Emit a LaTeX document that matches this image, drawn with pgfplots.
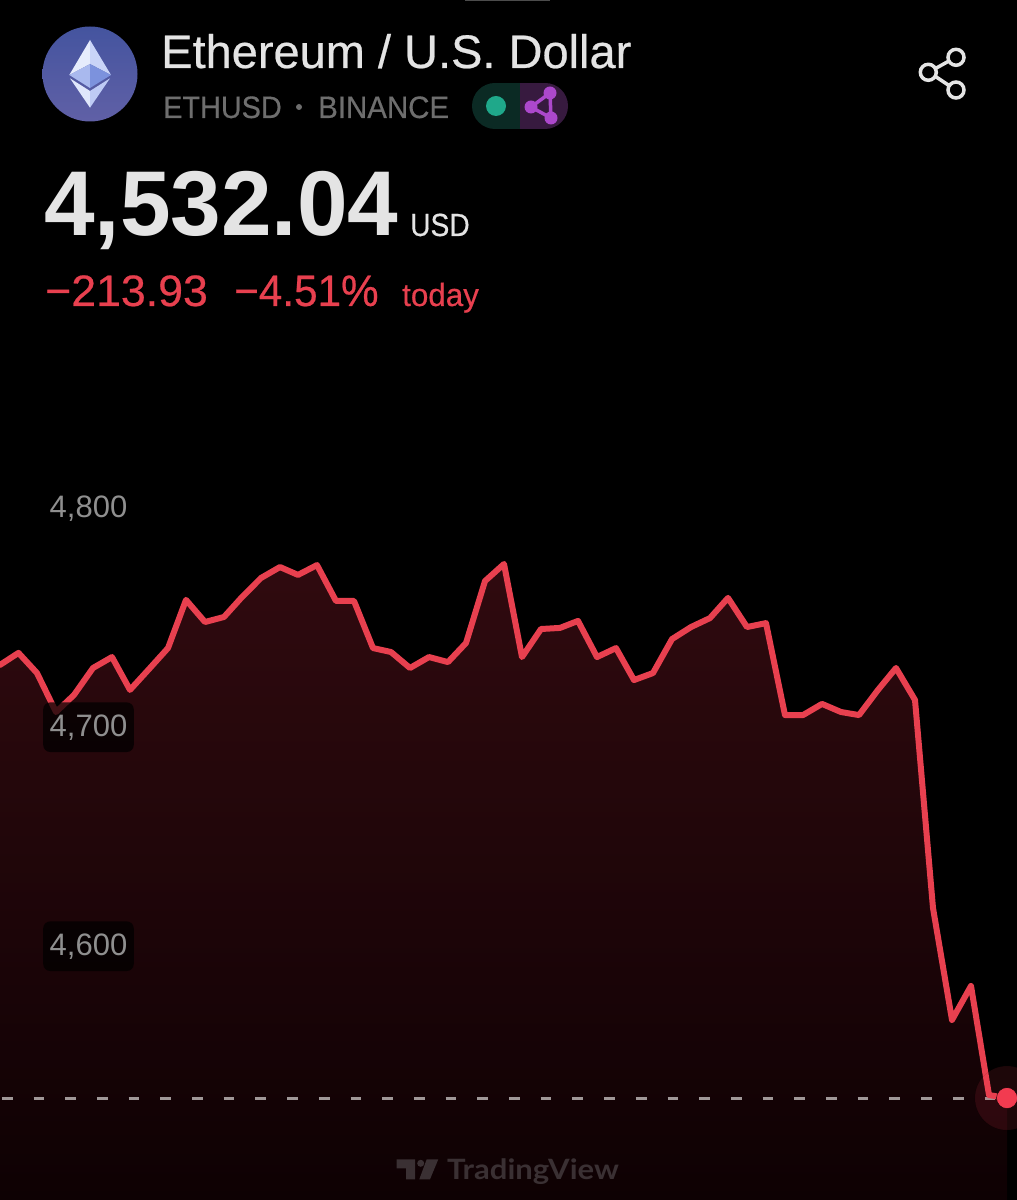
\documentclass[border=0pt]{standalone}
\usepackage{pgfplots}
\usepackage{pgfplotstable}
\usepackage{fontspec}
\pgfplotsset{compat=1.18}
\setmainfont{Liberation Sans}
\newfontfamily\tvfont{Lato}
\newfontfamily\medfont[FakeBold=0.5]{Liberation Sans}
\definecolor{redline}{HTML}{E8404F}
\definecolor{dotred}{HTML}{F23B50}
\definecolor{titlec}{HTML}{E4E4E4}
\definecolor{subc}{HTML}{6E6E6E}
\definecolor{tickc}{HTML}{8F8F8F}
\definecolor{filltop}{HTML}{300A0F}
\definecolor{fillbot}{HTML}{0E0103}
\definecolor{dashc}{HTML}{A09898}
\definecolor{tvc}{HTML}{3A3033}
\definecolor{badgeg}{HTML}{0B2A24}
\definecolor{badgep}{HTML}{371A3F}
\definecolor{dotg}{HTML}{1FA88A}
\definecolor{purp}{HTML}{AC48CC}
\definecolor{logoa}{HTML}{44549F}
\definecolor{logob}{HTML}{35488F}
\definecolor{logoc}{HTML}{6060A6}
\definecolor{ethA}{HTML}{E6ECFC}
\definecolor{ethB}{HTML}{C9D4F7}
\definecolor{ethC}{HTML}{A9B9EE}
\definecolor{ethD}{HTML}{7C92DD}
\definecolor{ethE}{HTML}{E0E7FB}
\definecolor{ethF}{HTML}{BECBF5}
\pgfplotstableread{
x y
0 4729.8
18.5 4735.3
37 4726.1
56 4708.3
74 4716.1
93 4728.4
112 4733.4
130 4718.4
149 4727.9
168 4737.5
186 4759.5
205 4749.4
224 4751.7
242 4760.8
261 4769.5
280 4774.5
298 4770.9
317 4775.4
336 4759.0
354 4759.0
373 4737.5
391 4735.7
410 4728.4
429 4733.4
448 4731.1
466 4739.8
485 4768.1
504 4775.9
522 4733.4
541 4746.2
560 4746.7
578 4749.9
597 4733.4
616 4737.5
634 4722.9
653 4726.1
672 4741.6
691 4747.1
710 4751.2
728 4760.4
747 4747.1
766 4748.9
785 4706.9
803 4706.9
822 4712.0
841 4708.3
859 4706.9
878 4718.4
896 4728.4
915 4713.8
933 4618.8
952 4567.7
971 4583.2
989 4533.4
1007 4532.04
}\pricedata
% x, y from top, size, x-stretch, colour, text
\newcommand\T[6]{\node[anchor=base west,inner sep=0pt,text=#5] at (#1,{1200-#2}) {\fontsize{#3pt}{#3pt}\selectfont\scalebox{#4}[1]{#6}};}
\begin{document}
\begin{tikzpicture}[x=1pt,y=1pt]
\path[use as bounding box,fill=black] (0,0) rectangle (1017,1200);
\begin{axis}[
  at={(0,0)},anchor=south west,
  width=1017pt,height=1200pt,scale only axis,
  xmin=0,xmax=1017,ymin=4485.48,ymax=5033.42,
  axis on top,
  axis line style={draw=none},
  major tick length=0pt,
  xtick=\empty,
  ytick={4600,4700,4800},
  /pgf/number format/.cd,1000 sep={,},assume math mode=true,
  /pgfplots/.cd,
  yticklabel style={anchor=west,xshift=43pt,yshift=3pt,inner xsep=6.5pt,inner ysep=12pt,
    text=tickc,font=\fontsize{31pt}{31pt}\selectfont,
    fill=black,fill opacity=.72,text opacity=1,rounded corners=7pt},
]
\addplot[draw=none,top color=filltop,bottom color=fillbot] table[x=x,y=y] {\pricedata} \closedcycle;
\addplot[dashc,line width=3pt,dash pattern=on 10.7pt off 21pt,dash phase=29.9pt] coordinates {(0,4532.04) (1000,4532.04)};
\addplot[redline,line width=6pt,line join=round,line cap=round] table[x=x,y=y] {\pricedata};
\addplot[only marks,mark=*,mark size=32pt,mark options={draw=none,fill=dotred,opacity=.12}] coordinates {(1007,4532.04)};
\addplot[only marks,mark=*,mark size=10.5pt,mark options={draw=none,fill=dotred}] coordinates {(1007,4532.04)};
\end{axis}
% top notch
\fill[gray!60!black] (465,1198.5) rectangle (550,1200);
% logo
\shade[top color=logoa,middle color=logob,bottom color=logoc] (90,1126) circle (47.5);
\fill[ethA] (90,1160) -- (69.3,1125) -- (90,1136) -- cycle;
\fill[ethB] (90,1160) -- (111,1125) -- (90,1136) -- cycle;
\fill[ethC] (69.3,1125) -- (90,1136) -- (90,1112) -- cycle;
\fill[ethD] (111,1125) -- (90,1136) -- (90,1112) -- cycle;
\fill[ethE] (70,1121.7) -- (90,1109) -- (90,1092.3) -- cycle;
\fill[ethF] (110,1121.7) -- (90,1109) -- (90,1092.3) -- cycle;
% title block
\T{161}{68}{47}{1.0}{titlec}{\medfont Ethereum / U.S. Dollar}
\T{163}{118}{31}{0.93}{subc}{\medfont ETHUSD}
\fill[subc] (299,1093) circle (3);
\T{318}{118}{31}{0.95}{subc}{\medfont BINANCE}
% badge
\begin{scope}
\clip[rounded corners=23pt] (472,1071) rectangle (568,1117);
\fill[badgeg] (472,1071) rectangle (520,1117);
\fill[badgep] (520,1071) rectangle (568,1117);
\end{scope}
\fill[dotg] (496,1094) circle (10);
\draw[purp,line width=3.5pt] (550,1107) -- (531,1093) -- (551,1082) -- cycle;
\fill[purp] (550,1107) circle (6.5) (531,1093) circle (6.5) (551,1082) circle (6.5);
% share
\draw[titlec,line width=3.5pt] (956,1142.7) circle (8) (928.3,1127.7) circle (8) (956,1110) circle (8);
\draw[titlec,line width=3.5pt] (935.5,1131.5) -- (949,1139) (935.5,1123.5) -- (949,1114.5);
% price
\T{44}{236}{92}{0.989}{titlec}{\bfseries 4,532.04}
\T{410}{236}{32}{0.88}{titlec}{\medfont USD}
\T{45}{306}{44}{1.015}{redline}{\medfont −213.93}
\T{234}{306}{44}{0.96}{redline}{\medfont −4.51\%}
\T{402}{306}{32}{0.98}{redline}{\medfont today}
% watermark
\fill[tvc] (396.7,40.7) -- (415,40.7) -- (415,20.7) -- (406,20.7) -- (406,31.7) -- (396.7,31.7) -- cycle;
\fill[tvc] (420.7,36.7) circle (3.5);
\fill[tvc] (426.7,40.7) -- (438.3,40.7) -- (430,20.7) -- (419.3,20.7) -- cycle;
\T{447}{1180}{28}{1.11}{tvc}{\tvfont\bfseries TradingView}
\end{tikzpicture}
\end{document}
